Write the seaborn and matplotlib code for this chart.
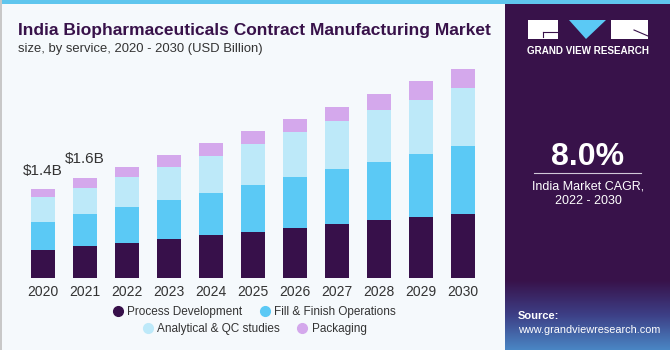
import numpy as np
import pandas as pd
import matplotlib
matplotlib.use("Agg")
import matplotlib.pyplot as plt
import seaborn as sns
from matplotlib.lines import Line2D
from matplotlib.patches import Rectangle, Polygon
from matplotlib.colors import LinearSegmentedColormap

years = [2020, 2021, 2022, 2023, 2024, 2025, 2026, 2027, 2028, 2029, 2030]
process_dev = [0.44, 0.50, 0.55, 0.61, 0.67, 0.73, 0.79, 0.85, 0.91, 0.955, 1.01]
fill_finish = [0.445, 0.50, 0.56, 0.62, 0.665, 0.73, 0.80, 0.865, 0.92, 0.995, 1.06]
analytical = [0.39, 0.42, 0.48, 0.52, 0.59, 0.65, 0.70, 0.75, 0.81, 0.855, 0.92]
packaging = [0.12, 0.16, 0.15, 0.18, 0.20, 0.20, 0.21, 0.23, 0.26, 0.29, 0.29]
series_names = ["Process Development", "Fill & Finish Operations",
                "Analytical & QC studies", "Packaging"]
colors = ["#37104a", "#5bc9f5", "#bde9f9", "#d4a8ec"]
labels = {2020: "$1.4B", 2021: "$1.6B"}
title = "India Biopharmaceuticals Contract Manufacturing Market"
subtitle = "size, by service, 2020 - 2030 (USD Billion)"
cagr = "8.0%"

rows = []
for name, vals in zip(series_names, [process_dev, fill_finish, analytical, packaging]):
    for y, v in zip(years, vals):
        rows.append({"year": y, "value": v, "service": name})
df = pd.DataFrame(rows)

BG = "#f5f9fc"
PURPLE = "#38124a"
fig = plt.figure(figsize=(6.7, 3.5), dpi=100, facecolor=BG)
W, H = 670, 350

def fx(px):
    return px / W

def fy(py):
    return 1 - py / H

# main axes: bar centers at 43 px (2020) .. 463 px (2030), baseline at y=278
ax = fig.add_axes([fx(20), fy(278), fx(462), (278 - 55) / H])
ax.set_facecolor("none")
hue_order = series_names[::-1]
palette = dict(zip(series_names, colors))
sns.histplot(data=df, x="year", weights="value", hue="service", hue_order=hue_order,
             multiple="stack", discrete=True, shrink=0.58, palette=palette,
             alpha=1, linewidth=0, legend=False, ax=ax)
ax.set_xlim(2020 - 0.548, 2030 + 0.452)
ax.set_ylim(0, 223 / 63.6)
for s in ax.spines.values():
    s.set_visible(False)
ax.set_yticks([])
ax.set_ylabel("")
ax.set_xlabel("")
ax.set_xticks(years)
ax.set_xticklabels([str(y) for y in years], fontsize=10, color="#333333",
                   family="Liberation Sans")
ax.tick_params(axis="x", length=0, pad=5)
totals = np.array(process_dev) + np.array(fill_finish) + np.array(analytical) + np.array(packaging)
for y, t in labels.items():
    i = years.index(y)
    ax.annotate(t, (y, totals[i]), xytext=(0, 8), textcoords="offset points",
                ha="center", va="bottom", fontsize=11, color="#333333",
                family="Liberation Sans")

# top stripe and left border
fig.patches.append(Rectangle((0, fy(4)), 1, 4 / H, transform=fig.transFigure,
                             facecolor="#5fc6ee", edgecolor="none", zorder=5))
fig.patches.append(Rectangle((0, 0), fx(1.5), 1, transform=fig.transFigure,
                             facecolor="#c8c8c8", edgecolor="none", zorder=5))

# title
fig.text(fx(18), fy(30), title, fontsize=12.5, fontweight="bold", color="#38124a",
         family="Liberation Sans", va="center", ha="left")
fig.text(fx(18), fy(49), subtitle, fontsize=9.4, color="#333333",
         family="Liberation Sans", va="center", ha="left")

# legend (two centered rows)
def handle(c):
    return Line2D([], [], marker="o", linestyle="none", markersize=7,
                  markerfacecolor=c, markeredgecolor=c)

leg_kw = dict(loc="center", ncol=2, frameon=False,
              prop={"family": "Liberation Sans", "size": 8.5},
              handletextpad=0.2, columnspacing=1.3, labelcolor="#333333",
              handlelength=1.2)
fig.legend([handle(colors[0]), handle(colors[1])], series_names[:2],
           bbox_to_anchor=(fx(253.5), fy(312)), **leg_kw)
fig.legend([handle(colors[2]), handle(colors[3])], series_names[2:],
           bbox_to_anchor=(fx(253.5), fy(329)), **leg_kw)

# right panel
pax = fig.add_axes([fx(505), 0, fx(165), fy(4)])
pax.axis("off")
pax.add_patch(Rectangle((505, 4), 165, 346, facecolor=PURPLE, edgecolor="none"))
grad = np.linspace(0, 1, 100)[:, None]
cmap = LinearSegmentedColormap.from_list("g", [PURPLE, "#3d3f86", "#4a86c4"])
pax.imshow(grad, extent=(505, 670, 350, 280), cmap=cmap, aspect="auto", zorder=1)
pax.set_xlim(505, 670)
pax.set_ylim(350, 4)
# logo
pax.add_patch(Rectangle((528, 20), 30, 19, facecolor="white", edgecolor="none", zorder=3))
pax.plot([543, 558], [32, 32], color=PURPLE, lw=0.8, zorder=4)
pax.plot([543, 543], [32, 37], color=PURPLE, lw=0.8, zorder=4)
pax.add_patch(Polygon([(569, 20), (606, 20), (586, 39)], closed=True,
                      facecolor="#5bc9f5", edgecolor="none", zorder=3))
pax.add_patch(Rectangle((611, 20), 37, 19, facecolor="white", edgecolor="none", zorder=3))
pax.plot([634, 648], [30, 36], color=PURPLE, lw=0.8, zorder=4)
pax.text(588, 51, "GRAND VIEW RESEARCH", color="white", fontsize=7.1,
         fontweight="bold", ha="center", va="center", family="Liberation Sans", zorder=3)
pax.text(588, 157, cagr, color="white", fontsize=23, fontweight="bold",
         ha="center", va="center", family="Liberation Sans", zorder=3)
pax.plot([534, 641], [173, 173], color="#d0c8d8", lw=0.8, zorder=3)
pax.text(588, 186, "India Market CAGR,", color="white", fontsize=9,
         ha="center", va="center", family="Liberation Sans", zorder=3)
pax.text(588, 201, "2022 - 2030", color="white", fontsize=9,
         ha="center", va="center", family="Liberation Sans", zorder=3)
pax.text(518, 316, "Source:", color="white", fontsize=8, fontweight="bold",
         ha="left", va="center", family="Liberation Sans", zorder=3)
pax.text(518, 330, "www.grandviewresearch.com", color="white", fontsize=7.8,
         ha="left", va="center", family="Liberation Sans", zorder=3)

fig.savefig("out.png", dpi=100, facecolor=BG)
